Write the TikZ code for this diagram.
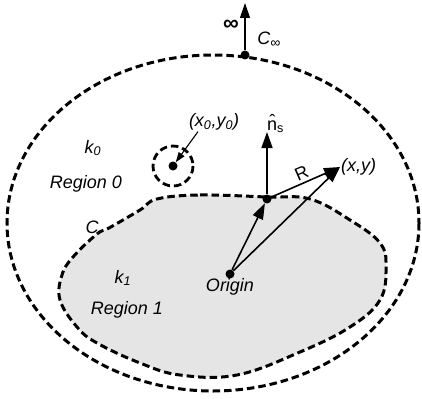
\documentclass[tikz,border=0pt]{standalone}
\usepackage{fontspec}
\setmainfont{Liberation Sans}
\usetikzlibrary{arrows.meta}

\begin{document}
\begin{tikzpicture}[x=1pt, y=-1pt,
  every node/.style={font=\fontsize{18}{20}\selectfont\itshape, inner sep=1pt},
  bound/.style={line width=3pt, dash pattern=on 7.5pt off 4pt},
  dot/.style={circle, fill, inner sep=0pt, minimum size=9pt},
  vec/.style={line width=1.6pt, -{Triangle[length=16pt,width=11pt]}},
  thin vec/.style={line width=1.1pt, -{Triangle[length=15pt,width=10pt]}}
]
\useasboundingbox (0,0) rectangle (422,398);

% boundaries
\draw[bound] (213,223) ellipse [x radius=206, y radius=168];
\draw[bound, fill=black!10] plot[smooth cycle, tension=0.65] coordinates {
  (157,199) (200,195) (267,197) (310,199) (350,220) (380,243) (386,267)
  (380,300) (350,327) (300,352) (237,375) (180,375) (140,363) (97,343)
  (77,327) (60,300) (62,275) (73,257) (97,234) (109,228) (140,210)};

% point at infinity
\node[dot] (top) at (245,55) {};
\coordinate (inf) at (245,3);
\draw[thin vec] (top) -- (inf);
\node[font=\fontsize{22}{22}\selectfont\bfseries] (infl) at (231,25) {∞};
\node (cinf) at (269,40) {C\textsubscript{\fontsize{14}{14}\selectfont ∞}};

% source point
\node[dot] (src) at (173,166) {};
\draw[bound, line width=2.8pt] (src) circle [radius=20];
\node (srclab) at (214,122) {(x\textsubscript{0},y\textsubscript{0})};
\draw[line width=1.1pt, -{Triangle[length=10pt,width=7pt]}]
  ([xshift=-16pt]srclab.south) -- (src);

% surface point, normal and vectors
\node[dot] (surf) at (267,199) {};
\coordinate (ntip) at (267,132);
\draw[vec] (surf) -- (ntip);
\node[font=\fontsize{18}{20}\selectfont, anchor=south west] (nlab) at (266,134)
  {\^{n}\textsubscript{s}};

\node[dot] (orig) at (230,274) {};
\node[below=3pt] (origlab) at (orig) {Origin};
\coordinate (xy) at (340,167);
\node[anchor=west] (xylab) at (xy) {(x,y)};

\draw[vec] (orig) -- (surf);
\draw[vec] (orig) -- (xy);
\draw[vec] (surf) -- node[above=2pt, sloped, font=\fontsize{18}{20}\selectfont] (rlab) {R} (xy);

% region labels
\node (k0) at (93,148) {k\textsubscript{0}};
\node (reg0) at (86,184) {Region 0};
\node (clab) at (92,227) {C};
\node (k1) at (123,278) {k\textsubscript{1}};
\node (reg1) at (127,310) {Region 1};
\end{tikzpicture}
\end{document}
